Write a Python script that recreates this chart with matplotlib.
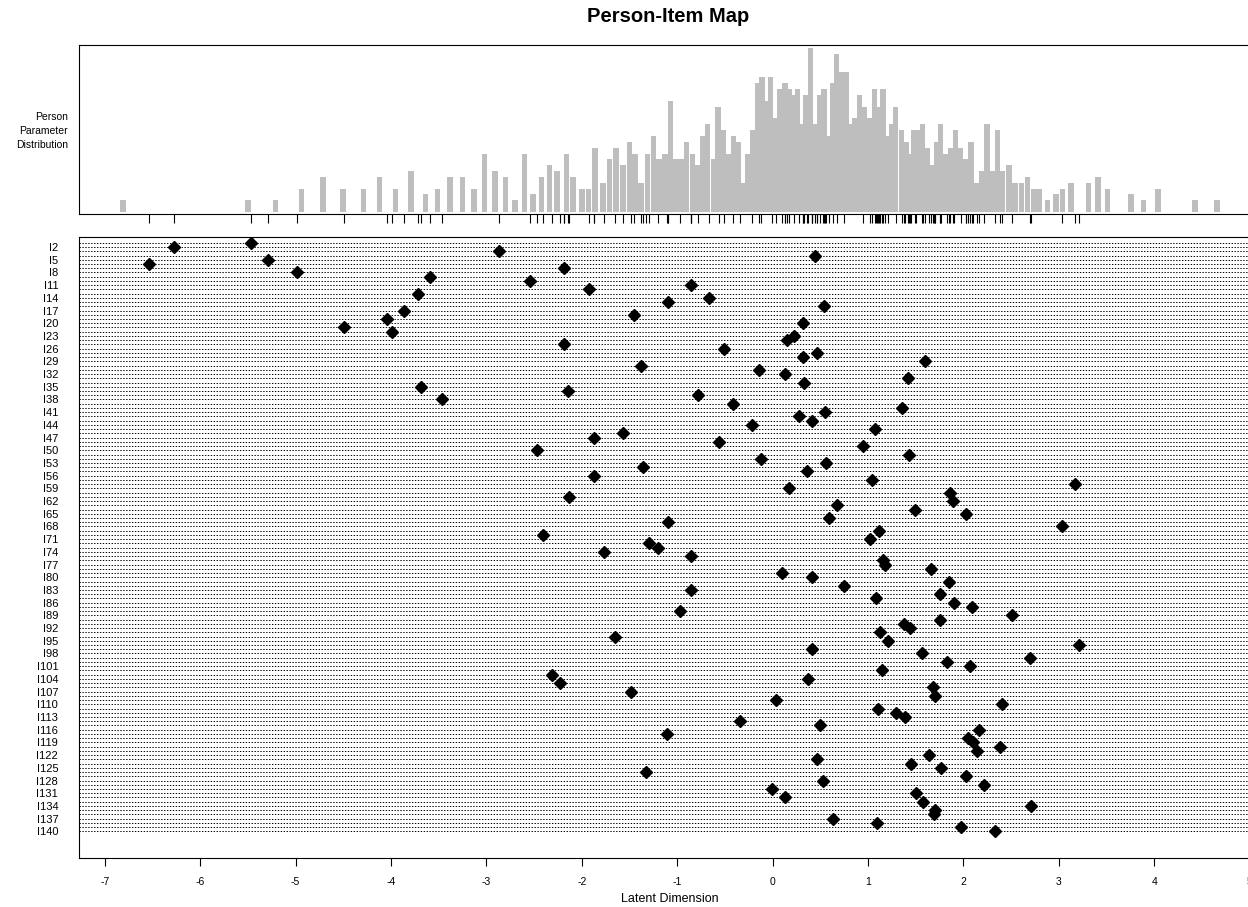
import numpy as np
import matplotlib
matplotlib.use("Agg")
import matplotlib.pyplot as plt

plt.rcParams["font.family"] = ["Liberation Sans", "DejaVu Sans"]
plt.rcParams["axes.unicode_minus"] = False

# item locations (difficulties), items I1..I140 in order
item_loc = [
    -5.47, -6.27, -2.87, 0.45, -5.29, -6.54, -2.19, -4.99, -3.59, -2.54,
    -0.85, -1.92, -3.72, -0.67, -1.10, 0.54, -3.86, -1.45, -4.04, 0.32,
    -4.49, -3.99, 0.23, 0.15, -2.19, -0.51, 0.47, 0.32, 1.60, -1.38,
    -0.14, 0.13, 1.42, 0.33, -3.69, -2.14, -0.78, -3.47, -0.41, 1.36,
    0.55, 0.28, 0.41, -0.22, 1.07, -1.57, -1.87, -0.56, 0.95, -2.47,
    1.43, -0.12, 0.56, -1.36, 0.36, -1.87, 1.04, 3.17, 0.17, 1.86,
    -2.13, 1.89, 0.68, 1.49, 2.03, 0.59, -1.10, 3.03, 1.12, -2.41,
    1.02, -1.30, -1.20, -1.77, -0.85, 1.16, 1.18, 1.66, 0.10, 0.41,
    1.85, 0.75, -0.85, 1.75, 1.08, 1.90, 2.09, -0.97, 2.51, 1.75,
    1.38, 1.44, 1.13, -1.65, 1.21, 3.21, 0.41, 1.57, 2.70, 1.83,
    2.07, 1.15, -2.31, 0.37, -2.23, 1.68, -1.48, 1.70, 0.04, 2.40,
    1.11, 1.29, 1.39, -0.34, 0.50, 2.16, -1.11, 2.05, 2.10, 2.38,
    2.14, 1.64, 0.47, 1.45, 1.77, -1.33, 2.03, 0.53, 2.22, -0.01,
    1.50, 0.13, 1.58, 2.71, 1.70, 1.69, 0.63, 1.10, 1.98, 2.33,
]
item_names = [f"I{i}" for i in range(1, len(item_loc) + 1)]

# person parameter distribution: theta values and frequencies
pp_theta = [
    -6.81, -5.50, -5.21, -4.94, -4.71, -4.50, -4.29, -4.12, -3.95, -3.79,
    -3.64, -3.51, -3.38, -3.25, -3.13, -3.02, -2.91, -2.80, -2.70, -2.60,
    -2.51, -2.42, -2.34, -2.26, -2.16, -2.09, -2.00, -1.93, -1.86, -1.78,
    -1.71, -1.64, -1.57, -1.50, -1.44, -1.38, -1.31, -1.25, -1.19, -1.13,
    -1.07, -1.02, -0.96, -0.90, -0.84, -0.78, -0.73, -0.68, -0.62, -0.57,
    -0.52, -0.46, -0.41, -0.36, -0.31, -0.26, -0.21, -0.16, -0.11, -0.07,
    -0.02, 0.03, 0.08, 0.13, 0.17, 0.21, 0.26, 0.31, 0.35, 0.40,
    0.45, 0.49, 0.54, 0.58, 0.63, 0.67, 0.72, 0.77, 0.81, 0.86,
    0.91, 0.96, 1.02, 1.07, 1.12, 1.16, 1.21, 1.25, 1.29, 1.35,
    1.40, 1.44, 1.48, 1.53, 1.57, 1.62, 1.67, 1.72, 1.76, 1.81,
    1.87, 1.92, 1.97, 2.02, 2.08, 2.13, 2.19, 2.25, 2.30, 2.36,
    2.41, 2.48, 2.54, 2.61, 2.67, 2.74, 2.80, 2.88, 2.97, 3.04,
    3.13, 3.31, 3.41, 3.51, 3.76, 3.89, 4.04, 4.43, 4.66,
]
pp_count = [
    2, 2, 2, 4, 6, 4, 4, 6, 4, 7,
    3, 4, 6, 6, 4, 10, 7, 6, 2, 10,
    3, 6, 8, 7, 10, 6, 4, 4, 11, 5,
    9, 11, 8, 12, 10, 5, 10, 13, 9, 10,
    19, 9, 9, 12, 10, 8, 13, 15, 9, 18,
    14, 10, 13, 12, 5, 10, 14, 22, 23, 19,
    23, 16, 21, 22, 21, 20, 21, 15, 20, 28,
    15, 20, 21, 13, 22, 27, 24, 24, 15, 16,
    20, 18, 16, 21, 18, 21, 13, 15, 18, 14,
    12, 10, 14, 14, 15, 11, 8, 12, 15, 10,
    11, 14, 11, 9, 12, 5, 7, 15, 7, 14,
    7, 8, 5, 5, 6, 4, 4, 2, 3, 4,
    5, 5, 6, 4, 3, 2, 4, 2, 2,
]

W, H = 1248, 907
XLIM = (-7.27, 5.12)


def px_box(left, top, right, bottom):
    return [left / W, 1 - bottom / H, (right - left) / W, (bottom - top) / H]


fig = plt.figure(figsize=(W / 100, H / 100), dpi=100)

# --- top panel: person parameter histogram + item rug ---
ax_h = fig.add_axes(px_box(79, 44.7, 1261, 214))
ax_h.bar(pp_theta, pp_count, width=0.058, color="#BEBEBE", linewidth=0)
ax_h.set_xlim(XLIM)
ax_h.set_ylim(-0.34, 28.6)
ax_h.set_yticks([])
ax_h.set_xticks(item_loc)
ax_h.tick_params(axis="x", length=6.5, width=0.8, labelbottom=False)
for s in ax_h.spines.values():
    s.set_linewidth(0.8)

fig.text(68 / W, 1 - 131 / H, "Person\nParameter\nDistribution",
         ha="right", va="center", fontsize=7.5, linespacing=1.45)

# --- bottom panel: item map ---
ax = fig.add_axes(px_box(79, 237, 1261, 858))
rows = np.arange(1, len(item_loc) + 1)
ax.hlines(rows, XLIM[0], XLIM[1], colors="black", linewidth=0.7,
          linestyles=(0, (1.4, 1.6)))
ax.plot(item_loc, rows, "D", color="black", markersize=5.8)
ax.set_xlim(XLIM)
ax.set_ylim(146.3, -0.37)
ax.set_yticks(rows[1::3])
ax.set_yticklabels(item_names[1::3])
ax.tick_params(axis="y", length=0, pad=15, labelsize=8)
ax.set_xticks(np.arange(-7, 6))
ax.tick_params(axis="x", length=6, width=0.8, labelsize=7.5, pad=8)
ax.set_xlabel("Latent Dimension", fontsize=9, labelpad=4)
for s in ax.spines.values():
    s.set_linewidth(0.8)

fig.text(668 / W, 1 - 16 / H, "Person-Item Map", ha="center", va="center",
         fontsize=14.5, fontweight="bold")

fig.savefig("out.png", dpi=100)
